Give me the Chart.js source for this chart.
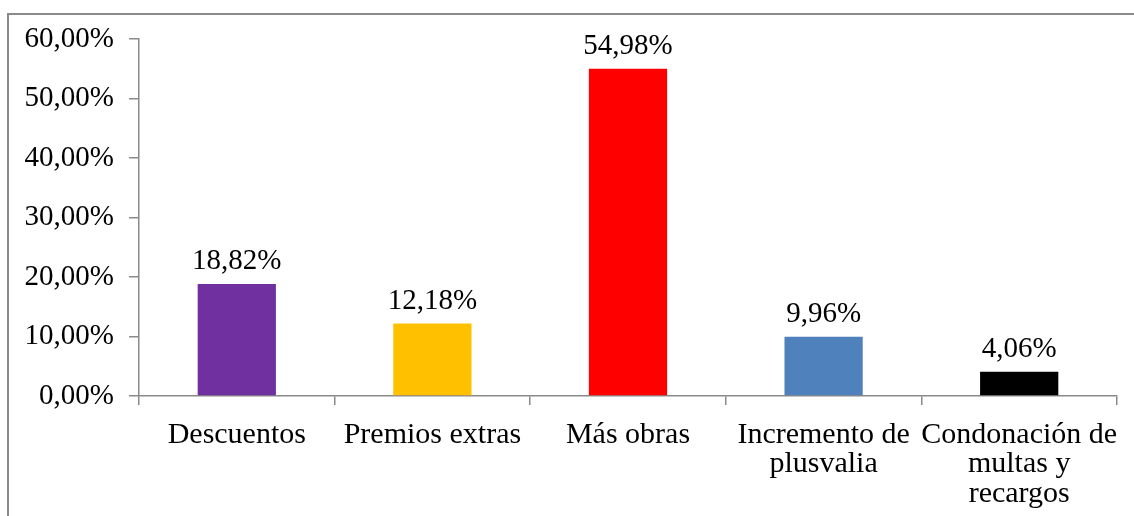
<!DOCTYPE html>
<html>
<head>
<meta charset="utf-8">
<script src="https://cdn.jsdelivr.net/npm/chart.js@4/dist/chart.umd.min.js"></script>
<style>
  html, body { margin: 0; padding: 0; background: #fff; }
  #wrap { position: relative; width: 1134px; height: 516px; overflow: hidden; }
  #frame { position: absolute; left: 7px; top: 13px; width: 1200px; height: 600px;
           border-left: 2px solid #8a8a8a; border-top: 2px solid #8a8a8a; }
  canvas { position: absolute; left: 0; top: 0; }
</style>
</head>
<body>
<div id="wrap">
  <div id="frame"></div>
  <canvas id="js-canvas-motivos" width="1134" height="516"></canvas>
</div>
<script>
// categories along the x-axis
const categories = [
  'Descuentos',
  'Premios extras',
  'Más obras',
  ['Incremento de', 'plusvalia'],
  ['Condonación de', 'multas y', 'recargos']
];
// percent of answers per category
const percents = [18.82, 12.18, 54.98, 9.96, 4.06];
const barColors = ['#7030A0', '#FFC000', '#FF0000', '#4F81BD', '#000000'];
const yMin = 0;
const yMax = 60;
const yStep = 10;

const fmt = v => v.toFixed(2).replace('.', ',') + '%';
const serif = '"Liberation Serif", "Times New Roman", serif';

// draws the value above each bar
const valueLabels = {
  id: 'valueLabels',
  afterDatasetsDraw(chart) {
    const ctx = chart.ctx;
    const meta = chart.getDatasetMeta(0);
    ctx.save();
    ctx.font = '29px ' + serif;
    ctx.fillStyle = '#000';
    ctx.textAlign = 'center';
    ctx.textBaseline = 'alphabetic';
    meta.data.forEach((bar, i) => {
      ctx.fillText(fmt(percents[i]), bar.x, bar.y - 15);
    });
    ctx.restore();
  }
};

const ctx = document.getElementById('js-canvas-motivos');
new Chart(ctx, {
  type: 'bar',
  data: {
    labels: categories,
    datasets: [{
      data: percents,
      backgroundColor: barColors,
      borderWidth: 0,
      barPercentage: 0.4,
      categoryPercentage: 1
    }]
  },
  options: {
    responsive: false,
    animation: false,
    layout: { padding: { left: 0, top: 39, right: 17, bottom: 0 } },
    plugins: { legend: { display: false }, tooltip: { enabled: false } },
    scales: {
      x: {
        afterFit: s => { s.height = 120; },
        border: { color: '#8a8a8a', width: 1.5 },
        grid: { drawOnChartArea: false, tickLength: 9, color: '#8a8a8a', lineWidth: 1.5 },
        ticks: {
          color: '#000',
          padding: 15,
          maxRotation: 0,
          autoSkip: false,
          font: { family: serif, size: 30, lineHeight: 0.99 }
        }
      },
      y: {
        min: yMin,
        max: yMax,
        afterFit: s => { s.width = 139; },
        border: { color: '#8a8a8a', width: 1.5 },
        grid: { drawOnChartArea: false, tickLength: 10, color: '#8a8a8a', lineWidth: 1.5 },
        ticks: {
          stepSize: yStep,
          color: '#000',
          padding: 15,
          font: { family: serif, size: 29 },
          callback: v => fmt(v)
        }
      }
    }
  },
  plugins: [valueLabels]
});
</script>
</body>
</html>
